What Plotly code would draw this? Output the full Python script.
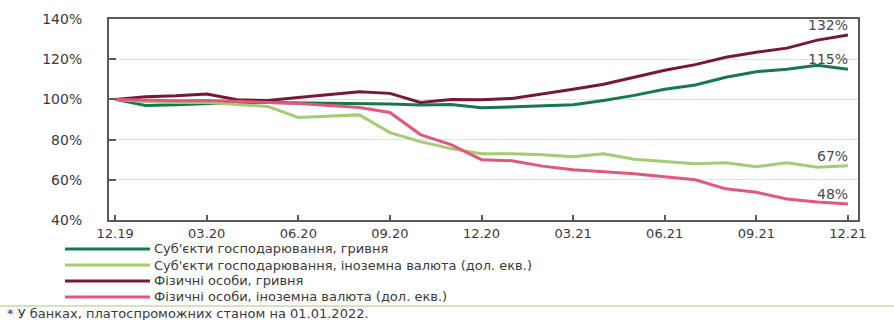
import plotly.graph_objects as go

months = ["12.19", "01.20", "02.20", "03.20", "04.20", "05.20", "06.20", "07.20", "08.20",
          "09.20", "10.20", "11.20", "12.20", "01.21", "02.21", "03.21", "04.21", "05.21",
          "06.21", "07.21", "08.21", "09.21", "10.21", "11.21", "12.21"]

corp_uah = [100, 97.0, 97.3, 98.0, 98.5, 98.5, 98.3, 98.2, 98.0, 97.7, 97.2, 97.5, 95.8,
            96.3, 96.8, 97.3, 99.5, 102.0, 105.0, 107.2, 111.0, 113.8, 115.0, 117.0, 115.0]
corp_fx = [100, 99.0, 98.5, 98.4, 97.5, 96.5, 91.0, 91.5, 92.3, 83.5, 79.0, 75.5, 73.0,
           73.0, 72.5, 71.5, 73.0, 70.2, 69.0, 68.0, 68.5, 66.5, 68.5, 66.3, 67.0]
hh_uah = [100, 101.3, 101.8, 102.7, 99.8, 99.5, 101.0, 102.5, 103.8, 103.0, 98.5, 100.0, 99.8,
          100.5, 102.7, 105.0, 107.5, 111.0, 114.5, 117.3, 121.0, 123.5, 125.5, 129.5, 132.0]
hh_fx = [100, 99.5, 99.3, 99.5, 99.0, 98.5, 98.0, 97.0, 96.0, 93.5, 82.5, 77.5, 70.0,
         69.5, 66.8, 65.0, 64.0, 63.0, 61.5, 60.0, 55.5, 53.8, 50.5, 49.0, 48.0]

series_names = ["Суб'єкти господарювання, гривня",
                "Суб'єкти господарювання, іноземна валюта (дол. екв.)",
                "Фізичні особи, гривня",
                "Фізичні особи, іноземна валюта (дол. екв.)"]
series_values = [corp_uah, corp_fx, hh_uah, hh_fx]
series_colors = ["#17784f", "#a3cc74", "#761838", "#e2577a"]

y_ticks = [40, 60, 80, 100, 120, 140]
y_ticktext = [f"{v}%" for v in y_ticks]
footnote = "* У банках, платоспроможних станом на 01.01.2022."

FONT = "DejaVu Sans"
TXT = "#3a3a3a"

x = list(range(len(months)))
fig = go.Figure()
for name, vals, col in zip(series_names, series_values, series_colors):
    fig.add_trace(go.Scatter(x=x, y=vals, mode="lines", name=name,
                             line=dict(color=col, width=3), showlegend=False))

# end labels
for vals in series_values:
    fig.add_annotation(x=x[-1], y=vals[-1], xref="x", yref="y",
                       text=f"{round(vals[-1])}%", showarrow=False,
                       xanchor="right", yanchor="bottom", xshift=2, yshift=0,
                       font=dict(family=FONT, size=14, color="#4a4a4a"))

# manual legend (paper coords)
row_y = [-0.144, -0.224, -0.303, -0.383]
for name, col, yy in zip(series_names, series_colors, row_y):
    fig.add_shape(type="line", xref="paper", yref="paper",
                  x0=-0.0587, x1=0.0547, y0=yy, y1=yy,
                  line=dict(color=col, width=3))
    fig.add_annotation(x=0.0574, y=yy, xref="paper", yref="paper", text=name,
                       showarrow=False, xanchor="left", yanchor="middle",
                       font=dict(family=FONT, size=13, color=TXT))

# separator and footnote
fig.add_shape(type="line", xref="paper", yref="paper", x0=-0.1455, x1=1.048,
              y0=-0.428, y1=-0.428, line=dict(color="#c9d9a8", width=1.5))
fig.add_annotation(x=-0.139, y=-0.463, xref="paper", yref="paper", text=footnote,
                   showarrow=False, xanchor="left", yanchor="middle",
                   font=dict(family=FONT, size=13, color=TXT))

fig.update_xaxes(range=[-0.2, 24.33], tickvals=x[::3], ticktext=months[::3],
                 showgrid=False, zeroline=False, showline=True, linecolor="#5a5a5a",
                 linewidth=2, mirror=True, ticks="inside", ticklen=5, tickwidth=2,
                 tickcolor="#5a5a5a", ticklabelstandoff=0,
                 tickfont=dict(family=FONT, size=13, color=TXT))
fig.update_yaxes(range=[40, 140], tickvals=y_ticks, ticktext=y_ticktext,
                 showgrid=True, gridcolor="#e2e2e2", gridwidth=1, zeroline=False,
                 showline=True, linecolor="#5a5a5a", linewidth=2, mirror=True,
                 ticks="inside", ticklen=7, tickwidth=2, tickcolor="#5a5a5a",
                 ticklabelstandoff=22,
                 tickfont=dict(family=FONT, size=14, color=TXT))

fig.update_layout(width=894, height=320, margin=dict(l=109, r=36, t=19, b=100),
                  plot_bgcolor="white", paper_bgcolor="white", showlegend=False)

fig.write_html("out.html")
